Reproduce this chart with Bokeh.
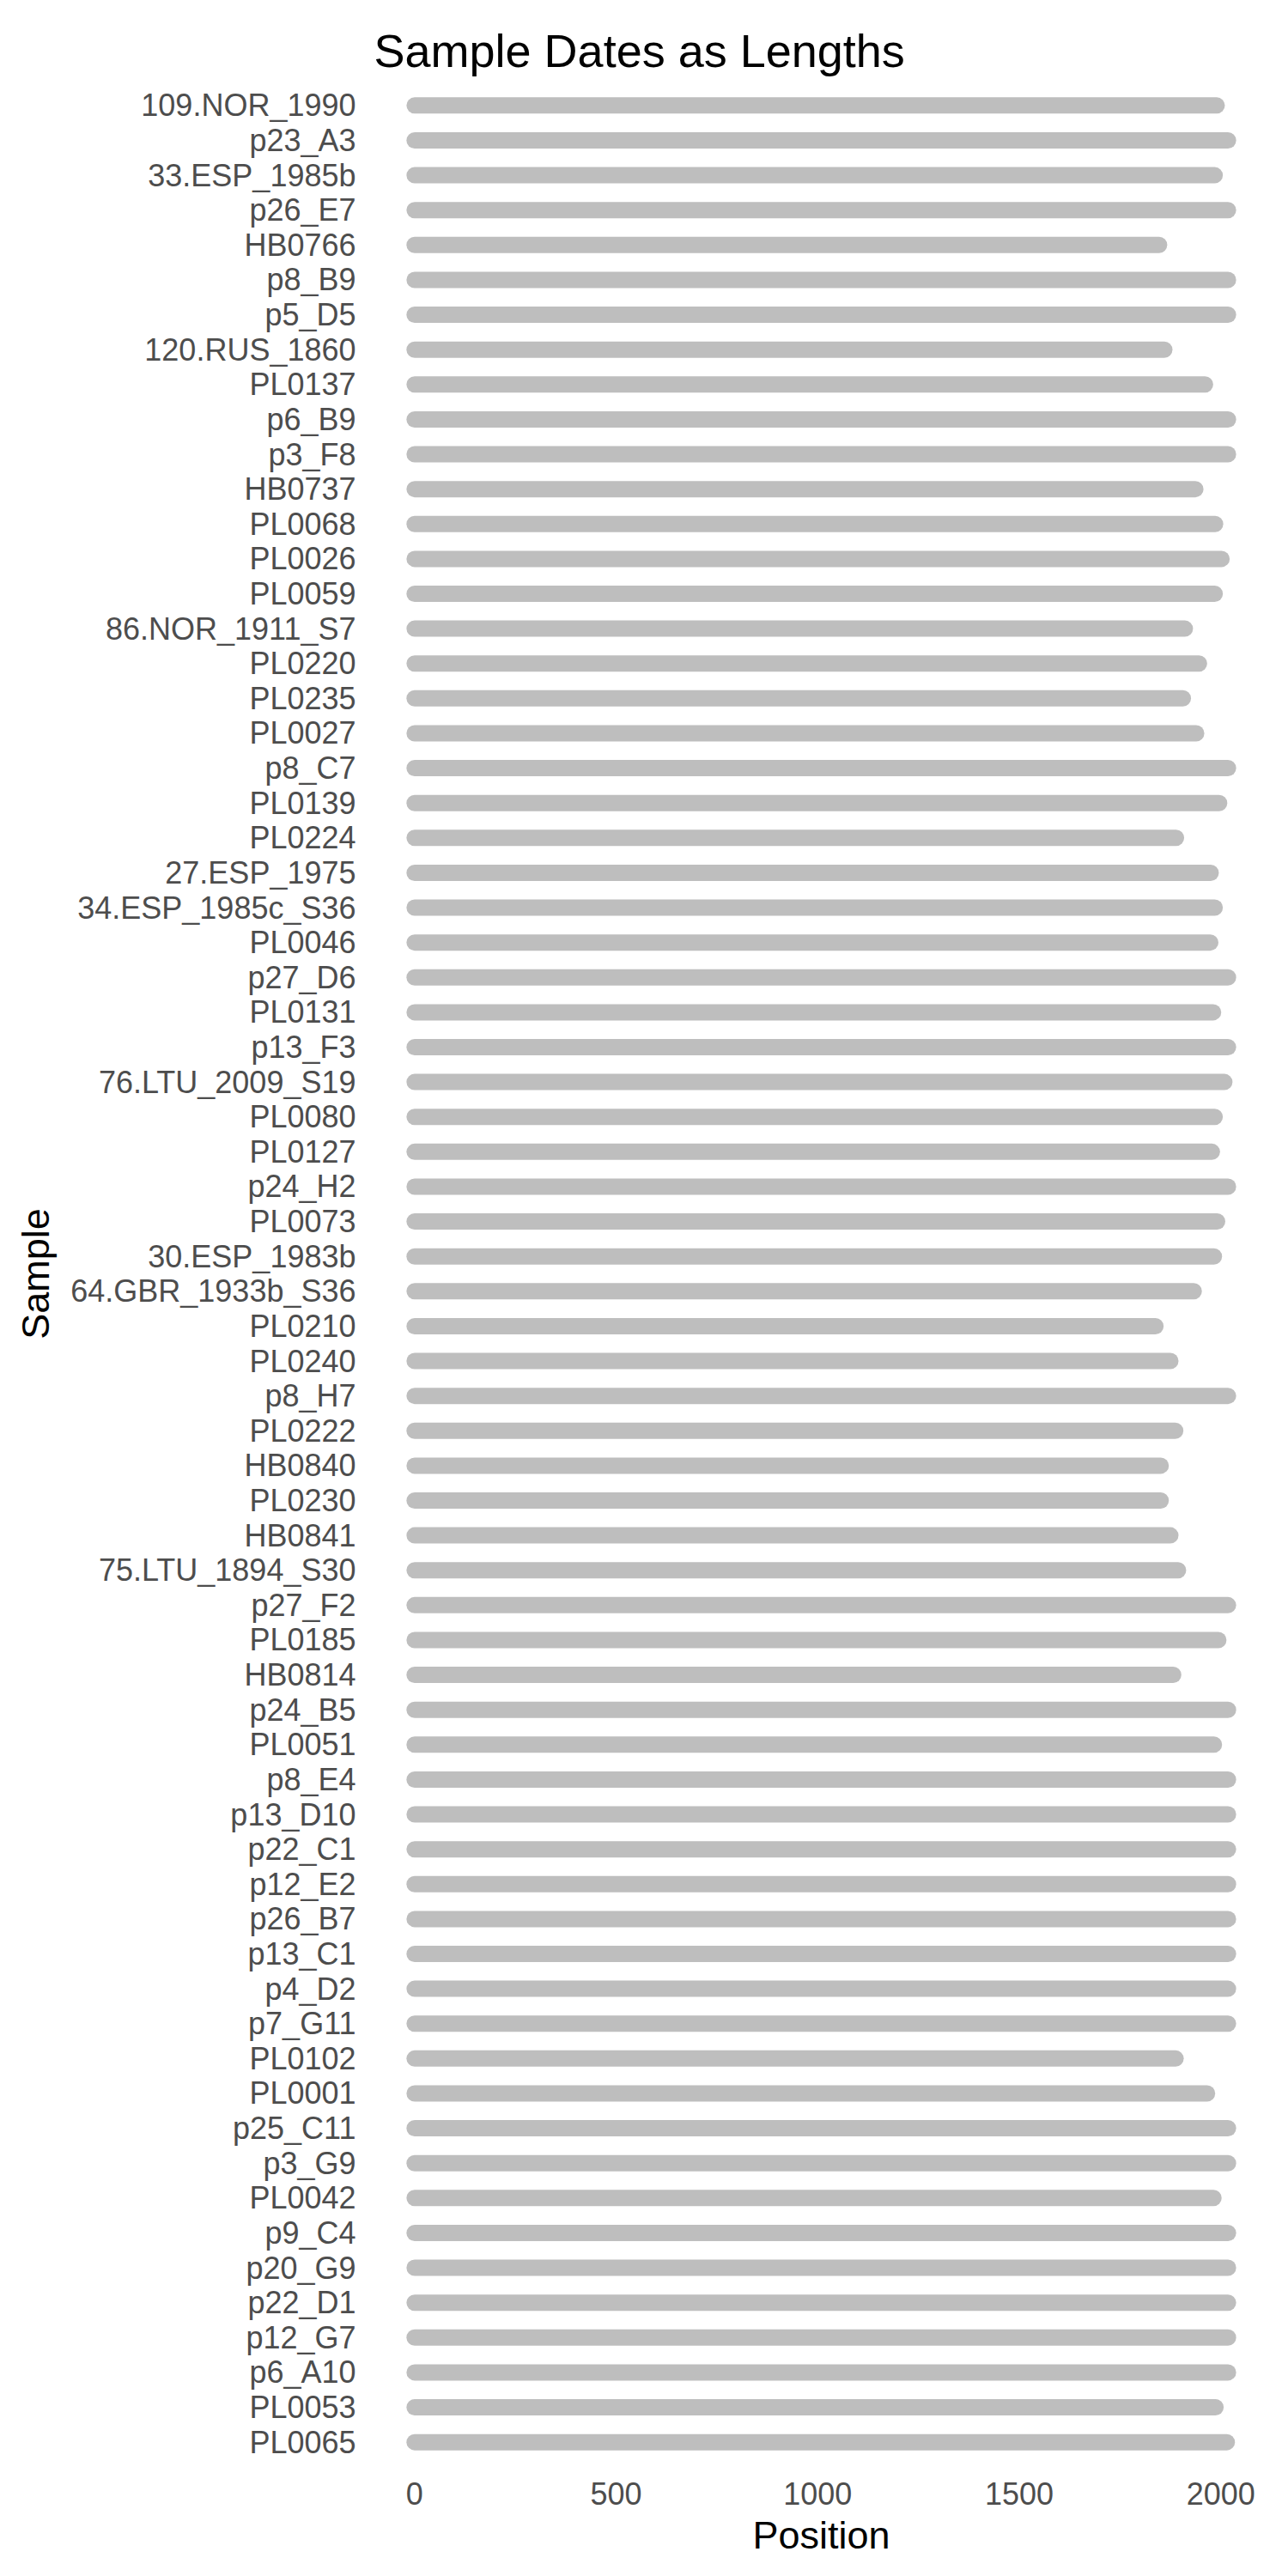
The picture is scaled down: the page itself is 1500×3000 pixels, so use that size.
from bokeh.plotting import figure
from bokeh.models import Range1d, FactorRange, FixedTicker, ColumnDataSource
from bokeh.embed import file_html
from bokeh.resources import INLINE

samples = ["109.NOR_1990", "p23_A3", "33.ESP_1985b", "p26_E7", "HB0766", "p8_B9", "p5_D5",
           "120.RUS_1860", "PL0137", "p6_B9", "p3_F8", "HB0737", "PL0068", "PL0026", "PL0059",
           "86.NOR_1911_S7", "PL0220", "PL0235", "PL0027", "p8_C7", "PL0139", "PL0224",
           "27.ESP_1975", "34.ESP_1985c_S36", "PL0046", "p27_D6", "PL0131", "p13_F3",
           "76.LTU_2009_S19", "PL0080", "PL0127", "p24_H2", "PL0073", "30.ESP_1983b",
           "64.GBR_1933b_S36", "PL0210", "PL0240", "p8_H7", "PL0222", "HB0840", "PL0230",
           "HB0841", "75.LTU_1894_S30", "p27_F2", "PL0185", "HB0814", "p24_B5", "PL0051",
           "p8_E4", "p13_D10", "p22_C1", "p12_E2", "p26_B7", "p13_C1", "p4_D2", "p7_G11",
           "PL0102", "PL0001", "p25_C11", "p3_G9", "PL0042", "p9_C4", "p20_G9", "p22_D1",
           "p12_G7", "p6_A10", "PL0053", "PL0065"]

dates = [1990, 2018, 1985, 2018, 1847, 2018, 2018, 1860, 1961, 2018,
         2018, 1937, 1986, 2002, 1985, 1911, 1946, 1906, 1939, 2018,
         1996, 1889, 1975, 1985, 1974, 2018, 1981, 2018, 2009, 1985,
         1978, 2018, 1991, 1983, 1933, 1838, 1875, 2018, 1887, 1851,
         1851, 1875, 1894, 2018, 1994, 1882, 2018, 1983, 2018, 2018,
         2018, 2018, 2018, 2018, 2018, 2018, 1888, 1966, 2018, 2018,
         1982, 2018, 2018, 2018, 2018, 2018, 1987, 2015]

x_ticks = [0, 500, 1000, 1500, 2000]

FONT = "Liberation Sans"

src = ColumnDataSource(dict(sample=samples, start=[0] * len(dates), date=dates))

p = figure(frame_width=1042, frame_height=2770, output_backend="svg", toolbar_location=None,
           x_range=Range1d(-100.9, 2118.9),
           y_range=FactorRange(factors=list(reversed(samples)), range_padding=0.1,
                               range_padding_units="absolute"),
           min_border_left=435, min_border_right=7, min_border_top=98, min_border_bottom=116)

p.segment(x0="start", y0="sample", x1="date", y1="sample", source=src,
          line_width=19, line_cap="round", line_color="#bebebe")

p.title.text = "Sample Dates as Lengths"
p.title.text_font = FONT
p.title.text_font_size = "54px"
p.title.text_font_style = "normal"
p.title.text_color = "black"
p.title.align = "left"
p.title.offset = 0
p.title.vertical_align = "bottom"
p.title.standoff = 20

p.xaxis.ticker = FixedTicker(ticks=x_ticks)
p.xaxis.axis_label = "Position"
p.yaxis.axis_label = "Sample"
for ax in (p.xaxis, p.yaxis):
    ax.axis_line_color = None
    ax.major_tick_line_color = None
    ax.minor_tick_line_color = None
    ax.major_label_text_font = FONT
    ax.major_label_text_font_size = "36px"
    ax.major_label_text_color = "#4d4d4d"
    ax.axis_label_text_font = FONT
    ax.axis_label_text_font_size = "45px"
    ax.axis_label_text_font_style = "normal"
    ax.axis_label_text_color = "black"

p.yaxis.major_label_standoff = 15
p.yaxis.axis_label_standoff = 12
p.xaxis.major_label_standoff = 16
p.xaxis.axis_label_standoff = 7

p.xgrid.grid_line_color = None
p.ygrid.grid_line_color = None
p.outline_line_color = None

open("out.html", "w").write(file_html(p, INLINE))
